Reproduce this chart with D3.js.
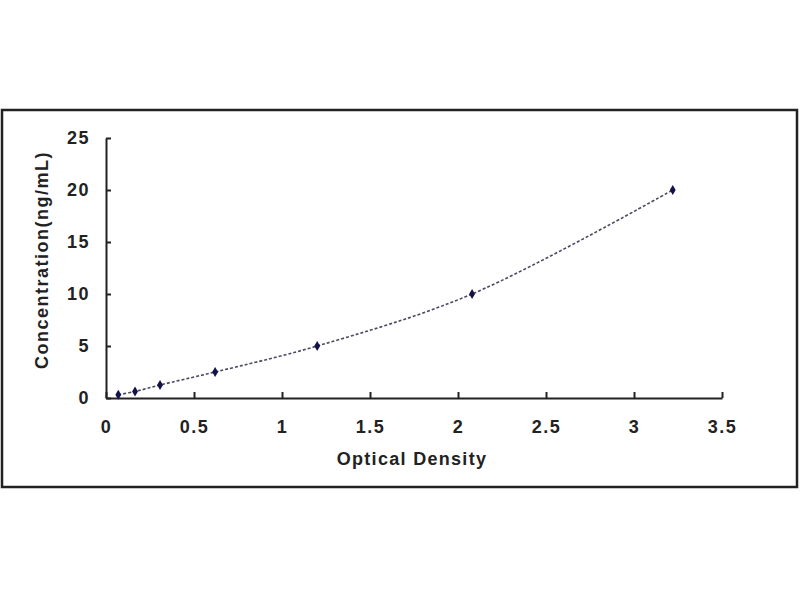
<!DOCTYPE html>
<meta charset="utf-8">
<title>Standard curve</title>
<style>
body { margin:0; background:#fff; }
svg text { font-family: "Liberation Sans", Arial, sans-serif; font-weight:bold; fill:#222; }
.axis text { font-size:18px; letter-spacing:1.5px; }
.axis path, .axis line { stroke:#222; stroke-width:2px; }
</style>
<svg width="800" height="600"></svg>
<script src="https://d3js.org/d3.v7.min.js"></script>
<script>
// standard points
var od   = [0.07, 0.165, 0.307, 0.62, 1.20, 2.08, 3.22];
var conc = [0.31, 0.625, 1.25, 2.5, 5, 10, 20];
var xTicks = [0, 0.5, 1, 1.5, 2, 2.5, 3, 3.5];
var yTicks = [0, 5, 10, 15, 20, 25];

var svg = d3.select("svg");

svg.append("rect")
   .attr("width", 800).attr("height", 600).attr("fill", "#fff");

// outer frame
svg.append("rect")
   .attr("x", 2).attr("y", 110)
   .attr("width", 795).attr("height", 377)
   .attr("fill", "none")
   .attr("stroke", "#222")
   .attr("stroke-width", 2.5);

var x = d3.scaleLinear().domain([0, 3.5]).range([106, 722]);
var y = d3.scaleLinear().domain([0, 25]).range([398, 138]);

svg.append("g")
   .attr("class", "axis")
   .attr("transform", "translate(0,398)")
   .call(d3.axisBottom(x).tickValues(xTicks).tickFormat(d3.format("")).tickSizeInner(-6).tickSizeOuter(0).tickPadding(22))
   .call(function(g){ g.selectAll("text").attr("fill", "#222"); });

svg.append("g")
   .attr("class", "axis")
   .attr("transform", "translate(106,0)")
   .call(d3.axisLeft(y).tickValues(yTicks).tickSizeInner(-5).tickSizeOuter(0).tickPadding(16))
   .call(function(g){ g.selectAll("text").attr("fill", "#222"); });

var pts = od.map(function(d, i){ return [d, conc[i]]; });

var line = d3.line()
    .x(function(d){ return x(d[0]); })
    .y(function(d){ return y(d[1]); })
    .curve(d3.curveCatmullRom.alpha(0.5));

svg.append("path")
   .datum(pts)
   .attr("d", line)
   .attr("fill", "none")
   .attr("stroke", "#4a4a60")
   .attr("stroke-width", 1.6)
   .attr("stroke-dasharray", "3,2");

svg.selectAll(".pt")
   .data(pts)
   .enter().append("path")
   .attr("class", "pt")
   .attr("transform", function(d){ return "translate(" + x(d[0]) + "," + y(d[1]) + ")"; })
   .attr("d", d3.symbol().type(d3.symbolDiamond).size(30))
   .attr("fill", "#12124a");

svg.append("text")
   .attr("x", 412).attr("y", 465)
   .attr("text-anchor", "middle")
   .style("font-size", "18px")
   .style("letter-spacing", "1.3px")
   .text("Optical Density");

svg.append("text")
   .attr("transform", "translate(48,260) rotate(-90)")
   .attr("text-anchor", "middle")
   .style("font-size", "18px")
   .style("letter-spacing", "1.5px")
   .text("Concentration(ng/mL)");
</script>
